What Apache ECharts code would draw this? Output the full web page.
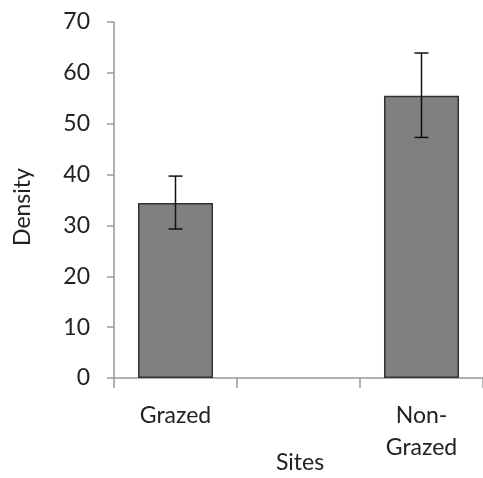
<!DOCTYPE html>
<html><head><meta charset="utf-8">
<script src="https://cdn.jsdelivr.net/npm/echarts@6/dist/echarts.min.js"></script>
<style>html,body{margin:0;padding:0;background:#fff}#c{width:483px;height:478px}</style>
</head><body><div id="c"></div>
<script>
const categories = ['Grazed', '', 'Non-\nGrazed'];
const means = [34.4, null, 55.5];
const errLow = [29.3, null, 47.3];
const errHigh = [39.7, null, 63.9];
const yTicks = [0, 10, 20, 30, 40, 50, 60, 70];

const FONT = 'Lato';
const chart = echarts.init(document.getElementById('c'), null, {renderer: 'canvas'});
const errData = categories.map((c, i) => [i, errLow[i], errHigh[i]]).filter(d => d[1] != null);
chart.setOption({
  animation: false,
  grid: {left: 114, right: 0, top: 22, bottom: 100, containLabel: false, outerBoundsMode: 'none'},
  xAxis: {
    type: 'category', data: categories,
    name: 'Sites', nameLocation: 'middle', nameGap: 73, nameMoveOverlap: false,
    nameTextStyle: {fontFamily: FONT, fontSize: 23, color: '#222', padding: [0, 0, 0, 3]},
    axisLine: {lineStyle: {color: '#999', width: 1.5}},
    axisTick: {show: true, length: 10, lineStyle: {color: '#999', width: 1.5}},
    axisLabel: {fontFamily: FONT, fontSize: 23, color: '#222', margin: 22, lineHeight: 32, interval: 0}
  },
  yAxis: {
    type: 'value', min: yTicks[0], max: yTicks[yTicks.length - 1], interval: 10,
    name: 'Density', nameLocation: 'middle', nameGap: 80, nameRotate: 90, nameMoveOverlap: false,
    nameTextStyle: {fontFamily: FONT, fontSize: 23, color: '#222', padding: [0, 14, 0, 0]},
    splitLine: {show: false},
    axisLine: {show: true, lineStyle: {color: '#999', width: 1.5}},
    axisTick: {show: true, length: 7, lineStyle: {color: '#999', width: 1.5}},
    axisLabel: {fontFamily: FONT, fontSize: 23, color: '#222', margin: 24}
  },
  series: [
    {
      type: 'bar', data: means, barWidth: '61%',
      itemStyle: {color: '#808080', borderColor: '#333', borderWidth: 1.5}
    },
    {
      type: 'custom', data: errData, z: 5,
      renderItem: function (params, api) {
        const x = api.value(0);
        const lo = api.coord([x, api.value(1)]);
        const hi = api.coord([x, api.value(2)]);
        const hw = 7;
        const st = {stroke: '#111', lineWidth: 1.5};
        return {type: 'group', children: [
          {type: 'line', shape: {x1: hi[0], y1: hi[1], x2: lo[0], y2: lo[1]}, style: st},
          {type: 'line', shape: {x1: hi[0] - hw, y1: hi[1], x2: hi[0] + hw, y2: hi[1]}, style: st},
          {type: 'line', shape: {x1: lo[0] - hw, y1: lo[1], x2: lo[0] + hw, y2: lo[1]}, style: st}
        ]};
      }
    }
  ]
});
</script></body></html>
